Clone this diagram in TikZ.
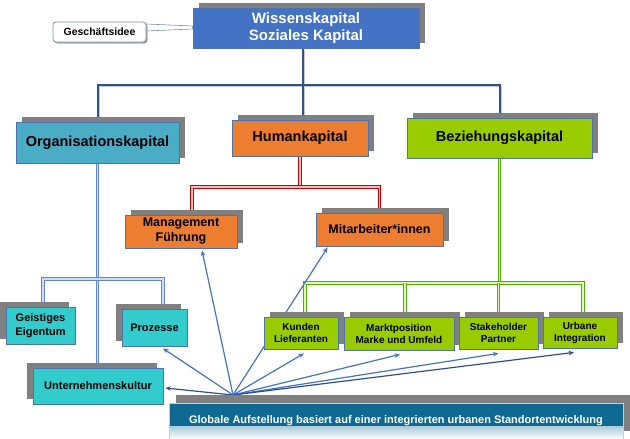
\documentclass[tikz,border=0pt]{standalone}
\usepackage{fontspec}
\setmainfont{Liberation Sans}
\usetikzlibrary{arrows.meta,shadows,backgrounds,calc}
\definecolor{topblue}{HTML}{4472C4}
\definecolor{orgblue}{HTML}{4BACC6}
\definecolor{orangebox}{HTML}{ED7D31}
\definecolor{lgreen}{HTML}{99CC00}
\definecolor{cyanbox}{HTML}{33CCCC}
\definecolor{bannerblue}{HTML}{0F6993}
\definecolor{shadowgray}{HTML}{808080}
\definecolor{boxborder}{HTML}{4F72B0}
\definecolor{treeblue}{HTML}{2F528F}
\definecolor{arrowblue}{HTML}{4472C4}
\definecolor{arrowdark}{HTML}{2E4F8F}
\definecolor{calloutborder}{HTML}{7A8FB5}
\newcommand\placebox[7]{\node[#6, minimum width={(#4-#2)*1pt}, minimum height={(#5-#3)*1pt}] (#1) at ({(#2+#4)/2},{(#3+#5)/2}) {#7};}
\newcommand\bluepaths[1]{%
  \draw[#1] (orgTop) |- (lvl1 -| bezTop) -- (bezTop);
  \draw[#1] (topBot) -- (topBot |- lvl1);
  \draw[#1] (humTop) -- (humTop |- lvl1);}
\begin{document}
\begin{tikzpicture}[x=1pt,y=-1pt,
  box/.style={draw=boxborder, line width=0.8pt, inner sep=0pt, align=center, text=black},
  shadowUR/.style={drop shadow={shadow xshift=5.5pt, shadow yshift=5.5pt, fill=shadowgray, opacity=1}},
  shadowUL/.style={drop shadow={shadow xshift=-6pt, shadow yshift=5.5pt, fill=shadowgray, opacity=1}},
  bigtext/.style={font=\bfseries\fontsize{14.5}{17}\selectfont},
  midtext/.style={font=\bfseries\fontsize{12.5}{15}\selectfont},
  smalltext/.style={font=\bfseries\fontsize{11}{13.5}\selectfont},
  greentext/.style={font=\bfseries\fontsize{10}{12}\selectfont},
  callout/.style={draw=calloutborder, fill=white, rounded corners=3pt, line width=0.8pt, inner sep=0pt,
     font=\bfseries\fontsize{10.5}{12}\selectfont,
     drop shadow={shadow xshift=1.5pt, shadow yshift=-1.5pt, fill=black!35, opacity=1}},
  wedge/.style={draw=calloutborder, fill=white, line width=0.6pt},
  bannerstyle/.style={fill=bannerblue, draw=white!70!bannerblue, line width=0.8pt, inner sep=0pt, text=white,
     font=\bfseries\fontsize{11}{13}\selectfont,
     drop shadow={shadow xshift=7pt, shadow yshift=8pt, fill=shadowgray, opacity=1},
     path picture={\shade[top color=bannerblue, bottom color=white] ([yshift=13pt]path picture bounding box.south west) rectangle (path picture bounding box.south east);}},
  bluetree/.style={draw=treeblue, line width=2pt},
  blueshade/.style={draw=black!22, line width=1.3pt},
  orgtree/.style={draw=topblue!85!white, double=topblue!25!white, line width=0.9pt, double distance=1.6pt},
  redtree/.style={draw=red!80!black, double=red!25!white, line width=0.9pt, double distance=1.6pt},
  greentree/.style={draw=green!40!olive, double=lgreen!25!white, line width=0.9pt, double distance=1.6pt},
  arr/.style={draw=arrowblue, line width=1.2pt, -{Stealth[length=5.5pt,width=4.5pt]}},
  arrd/.style={arr, draw=arrowdark}
]
\useasboundingbox (0,0) rectangle (630,439);

% boxes
\placebox{top}{193}{8}{419}{48}{box, fill=topblue, text=white, font=\bfseries\fontsize{15}{17}\selectfont, shadowUR}{Wissenskapital\\Soziales Kapital}
\placebox{idee}{53}{22}{146}{42}{callout}{Geschäftsidee}
\placebox{org}{16}{122}{179}{163}{box, fill=orgblue, bigtext, shadowUR}{Organisationskapital}
\placebox{hum}{232}{120}{368}{156}{box, fill=orangebox, bigtext, shadowUR}{Humankapital}
\placebox{bez}{407}{118}{592}{158}{box, fill=lgreen, bigtext, shadowUR}{Beziehungskapital}
\placebox{mgmt}{125}{215}{237}{248}{box, fill=orangebox, midtext, shadowUR}{Management\\Führung}
\placebox{mit}{316}{213}{443}{246}{box, fill=orangebox, midtext, shadowUR}{Mitarbeiter*innen}
\placebox{geist}{6}{307}{75}{344}{box, fill=cyanbox, smalltext, shadowUL}{Geistiges\\Eigentum}
\placebox{proz}{122}{309}{187}{346}{box, fill=cyanbox, smalltext, shadowUL}{Prozesse}
\placebox{uk}{33}{368}{163}{404}{box, fill=cyanbox, smalltext, shadowUL}{Unternehmenskultur}
\placebox{kun}{264}{317}{338}{349}{box, fill=lgreen, greentext, shadowUR}{Kunden\\Lieferanten}
\placebox{mark}{344}{317}{454}{350}{box, fill=lgreen, greentext, shadowUR}{Marktposition\\Marke und Umfeld}
\placebox{stake}{459}{317}{538}{349}{box, fill=lgreen, greentext, shadowUR}{Stakeholder\\Partner}
\placebox{urb}{543}{317}{617}{348}{box, fill=lgreen, greentext, shadowUR}{Urbane\\Integration}
\placebox{banner}{169}{403}{623}{439}{bannerstyle}{Globale Aufstellung basiert auf einer integrierten urbanen Standortentwicklung}

\coordinate (lvl1) at (0,85);
\coordinate (lvl2) at (0,187);
\coordinate (lvl3) at (0,283);
\coordinate (lvl4) at (0,279);
\coordinate (hub) at (233,395);
\coordinate (orgTop) at ([xshift=0.5pt]org.north);
\coordinate (bezTop) at ([xshift=0.5pt]bez.north);
\coordinate (humTop) at ([xshift=2.5pt]hum.north);
\coordinate (topBot) at ([xshift=-3pt]top.south);

\begin{scope}[on background layer]
  % callout pointer
  \draw[wedge] ([yshift=8pt]idee.east) -- ([yshift=2pt]top.west) -- ([yshift=-1pt]top.west) -- ([yshift=1pt]idee.east) -- cycle;
  % blue tree with shade
  \begin{scope}[transform canvas={xshift=1.7pt,yshift=-1.7pt}]
    \bluepaths{blueshade}
  \end{scope}
  \bluepaths{bluetree}
  % organisation tree
  \coordinate (geistTop) at ([xshift=2.5pt]geist.north);
  \coordinate (prozTop) at ([xshift=8.5pt]proz.north);
  \draw[orgtree] (org.south) -- (org.south |- uk.north);
  \draw[orgtree] (geistTop) |- (lvl4 -| prozTop) -- (prozTop);
  % human tree
  \coordinate (mgmtTop) at ([xshift=11pt]mgmt.north);
  \draw[redtree] (hum.south) -- (hum.south |- lvl2);
  \draw[redtree] (mgmtTop) |- (lvl2 -| mit.north) -- (mit.north);
  % relation tree
  \coordinate (kunTop) at ([xshift=4pt]kun.north);
  \coordinate (markTop) at ([xshift=6pt]mark.north);
  \coordinate (urbTop) at ([xshift=3pt]urb.north);
  \draw[greentree] (bez.south) -- (bez.south |- lvl3);
  \draw[greentree] (kunTop) |- (lvl3 -| urbTop) -- (urbTop);
  \draw[greentree] (markTop) -- (markTop |- lvl3);
  \draw[greentree] (stake.north) -- (stake.north |- lvl3);
  % arrows from the banner
  \draw[arrd] (hub) -- ([xshift=2pt,yshift=-2pt]uk.east);
  \draw[arr] (hub) -- ([xshift=8.5pt,yshift=-2pt]proz.south);
  \draw[arr] (hub) -- ([xshift=21pt,yshift=-2pt]mgmt.south);
  \draw[arr] (hub) -- ([xshift=12pt,yshift=-1pt]mit.south west);
  \draw[arr] (hub) -- ([xshift=3pt,yshift=-4pt]kun.south);
  \draw[arr] (hub) -- ([xshift=1pt,yshift=-4pt]mark.south);
  \draw[arr] (hub) -- ([yshift=-4pt]stake.south);
  \draw[arrd] (hub) -- ([xshift=-6pt,yshift=-4pt]urb.south);
\end{scope}
\end{tikzpicture}
\end{document}
